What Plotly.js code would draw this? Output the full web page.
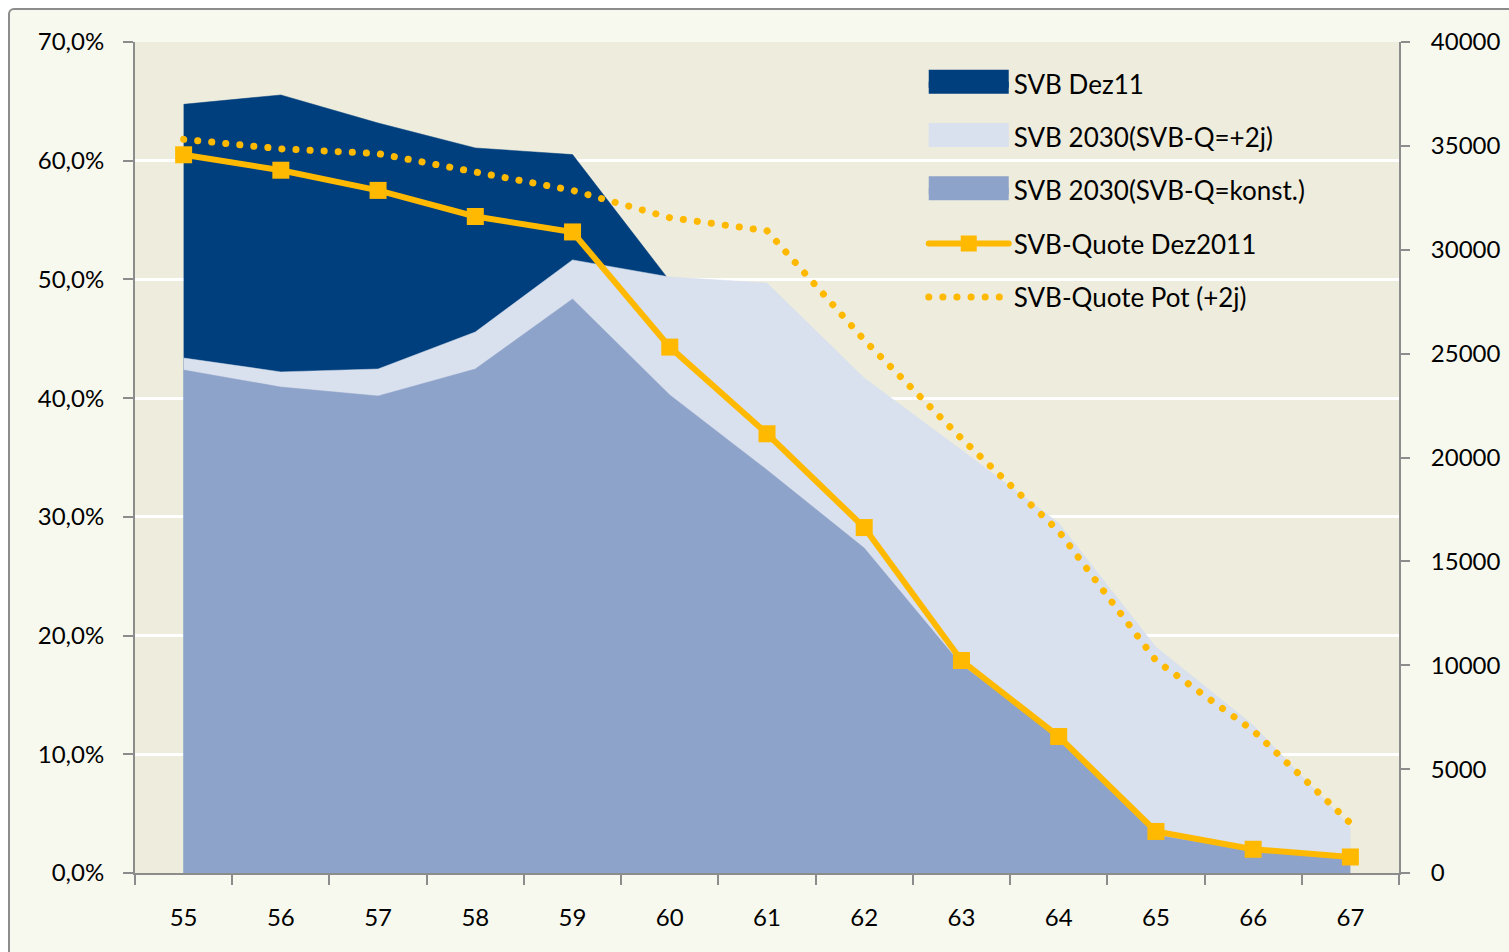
<!DOCTYPE html>
<html><head><meta charset="utf-8">
<script src="https://cdn.plot.ly/plotly-3.0.1.min.js"></script>
<style>
html,body{margin:0;padding:0;background:#fff;overflow:hidden;}
#frame{position:absolute;left:8px;top:8px;width:1600px;height:1100px;background:#F8F9EE;border:2px solid #8c8c8c;border-radius:6px;}
#chart{position:absolute;left:0;top:0;width:1509px;height:952px;}
.tracepot path.js-line{stroke-linecap:round !important;}
.legend .traces path.js-line{stroke-linecap:round !important;}
.legend .groups:nth-child(-n+3) .traces path.js-line{stroke-width:24px !important;stroke-linecap:butt !important;stroke-opacity:1 !important;}
</style></head><body>
<div id="frame"></div><div id="chart"></div>
<script>
const ages = ['55','56','57','58','59','60','61','62','63','64','65','66','67'];
// counts (right axis)
const svbDez11   = [37000, 37450, 36100, 34900, 34580, 28500, null, null, null, null, null, null, null];
const svb2030Plus2 = [24790, 24120, 24260, 26040, 29510, 28690, 28400, 23830, 20360, 16850, 10880, 7120, 2210];
const svb2030Konst = [24210, 23390, 22960, 24260, 27630, 23010, 19400, 15640, 10010, 6640, 1830, 1060, 720];
// quotes in % (left axis)
const quoteDez2011 = [60.5, 59.2, 57.5, 55.3, 54.0, 44.3, 37.0, 29.1, 17.9, 11.5, 3.5, 2.0, 1.35];
const quotePot     = [61.8, 61.0, 60.6, 59.1, 57.5, 55.2, 54.1, 44.9, 36.6, 28.8, 17.9, 12.0, 4.2];

const names = ['SVB Dez11','SVB 2030(SVB-Q=+2j)','SVB 2030(SVB-Q=konst.)','SVB-Quote Dez2011','SVB-Quote Pot (+2j)'];
const cDark = '#003F7D', cLight = '#D9E0EE', cKonst = '#8EA3C9', cYellow = '#FFB900';

const traces = [
  {x: ages, y: svbDez11, name: names[0], type:'scatter', mode:'lines', fill:'tozeroy', fillcolor:cDark,
   line:{width:0.5, color:cDark}, yaxis:'y', legendgroup:'g1', hoverinfo:'skip'},
  {x: ages, y: svb2030Plus2, name: names[1], type:'scatter', mode:'lines', fill:'tozeroy', fillcolor:cLight,
   line:{width:0.5, color:cLight}, yaxis:'y', legendgroup:'g2', hoverinfo:'skip'},
  {x: ages, y: svb2030Konst, name: names[2], type:'scatter', mode:'lines', fill:'tozeroy', fillcolor:cKonst,
   line:{width:0.5, color:cKonst}, yaxis:'y', legendgroup:'g3', hoverinfo:'skip'},
  {x: ages, y: quoteDez2011, name: names[3], type:'scatter', mode:'lines+markers',
   line:{width:6, color:cYellow}, marker:{symbol:'square', size:17, color:cYellow}, yaxis:'y2', legendgroup:'g4'},
  {x: ages, y: quotePot, name: names[4], type:'scatter', mode:'lines', uid:'pot',
   line:{width:7, color:cYellow, dash:'0.1px,14px'}, yaxis:'y2', legendgroup:'g5'}
];

const fontFam = 'Lato, "Noto Sans", sans-serif';
const layout = {
  width:1509, height:952,
  margin:{l:135, r:110, t:42, b:79, pad:0},
  paper_bgcolor:'rgba(0,0,0,0)', plot_bgcolor:'#EEECDC',
  separators:',.',
  font:{family:fontFam, size:24, color:'#000'},
  showlegend:true,
  legend:{x:0.624, y:0.978, xanchor:'left', yanchor:'top', bgcolor:'rgba(0,0,0,0)',
          font:{family:fontFam, size:26, color:'#000'}, itemwidth:80, traceorder:'grouped', tracegroupgap:16.5},
  xaxis:{type:'category', range:[-0.5,12.5], tickson:'boundaries', ticks:'outside', ticklen:10, tickwidth:2,
         tickcolor:'#8c8c8c', showline:true, linecolor:'#8c8c8c', linewidth:2, showgrid:false, zeroline:false,
         ticklabelstandoff:22, tickfont:{size:24}},
  yaxis:{side:'right', range:[0,40000], dtick:5000, tickformat:'d', ticks:'outside', ticklen:9, tickwidth:2,
         tickcolor:'#8c8c8c', showline:true, linecolor:'#8c8c8c', linewidth:2, showgrid:false, zeroline:false,
         ticklabelstandoff:16, tickfont:{size:24}},
  yaxis2:{overlaying:'y', side:'left', range:[0,70], dtick:10, tickformat:'.1f', ticksuffix:'%', ticks:'outside',
          ticklen:10, tickwidth:2, tickcolor:'#8c8c8c', showline:true, linecolor:'#8c8c8c', linewidth:2,
          showgrid:true, gridcolor:'#FFFFFF', gridwidth:3, zeroline:false, ticklabelstandoff:14, tickfont:{size:24}}
};
Plotly.newPlot('chart', traces, layout, {displayModeBar:false, staticPlot:true});
</script>
</body></html>
